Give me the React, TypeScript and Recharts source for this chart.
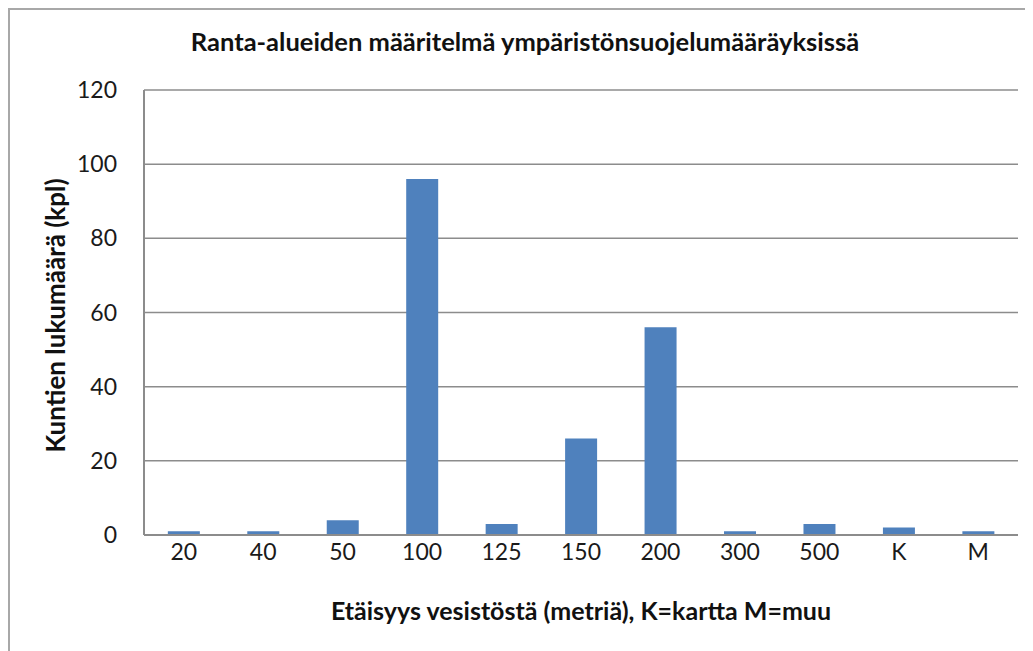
import { BarChart, Bar, XAxis, YAxis, CartesianGrid, Label } from 'recharts';

const categories = ['20', '40', '50', '100', '125', '150', '200', '300', '500', 'K', 'M'];
const counts = [1, 1, 4, 96, 3, 26, 56, 1, 3, 2, 1];
const yTicks = [0, 20, 40, 60, 80, 100, 120];

const title = 'Ranta-alueiden määritelmä ympäristönsuojelumääräyksissä';
const xTitle = 'Etäisyys vesistöstä (metriä), K=kartta M=muu';
const yTitle = 'Kuntien lukumäärä (kpl)';

const data = categories.map((c, i) => ({ dist: c, count: counts[i] }));

const font = 'Lato, "Open Sans", sans-serif';
const tick = { fill: '#1a1a1a', fontSize: 23, fontFamily: font };

export default function App() {
  return (
    <div style={{ position: 'relative', width: 1025, height: 643, fontFamily: font }}>
      {/* outer chart frame, cut off at right and bottom like the screenshot */}
      <div
        style={{
          position: 'absolute',
          left: 0,
          top: 0,
          width: 1025,
          height: 643,
          boxSizing: 'border-box',
          borderTop: '2px solid #a8a8a8',
          borderLeft: '2px solid #a8a8a8',
        }}
      />
      <div
        style={{
          position: 'absolute',
          left: 0,
          top: 17,
          width: 1034,
          textAlign: 'center',
          fontSize: 25.5,
          lineHeight: '32px',
          fontWeight: 700,
          color: '#111',
        }}
      >
        {title}
      </div>
      <div style={{ position: 'absolute', left: 0, top: 0 }}>
        <BarChart
          width={1025}
          height={643}
          data={data}
          margin={{ top: 82, right: 15, bottom: 0, left: 0 }}
          barCategoryGap="30%"
        >
          <CartesianGrid vertical={false} stroke="#8c8c8c" strokeWidth={1.5} />
          <XAxis
            dataKey="dist"
            height={116}
            tick={tick}
            tickSize={0}
            tickMargin={9}
            axisLine={{ stroke: '#8c8c8c', strokeWidth: 2 }}
            tickLine={false}
          >
            <Label
              content={({ viewBox }: any) => (
                <text
                  x={viewBox.x + viewBox.width / 2}
                  y={viewBox.y + 85}
                  textAnchor="middle"
                  fontSize={25}
                  fontWeight={700}
                  fontFamily={font}
                  fill="#111"
                >
                  {xTitle}
                </text>
              )}
            />
          </XAxis>
          <YAxis
            width={136}
            domain={[0, 120]}
            ticks={yTicks}
            tick={tick}
            tickSize={0}
            tickMargin={27}
            axisLine={{ stroke: '#8c8c8c', strokeWidth: 2 }}
            tickLine={false}
          >
            <Label
              content={({ viewBox }: any) => {
                const cx = 47;
                const cy = viewBox.y + viewBox.height / 2 + 3;
                return (
                  <text
                    x={cx}
                    y={cy}
                    transform={`rotate(-90 ${cx} ${cy})`}
                    textAnchor="middle"
                    dominantBaseline="central"
                    fontSize={26}
                    fontWeight={700}
                    fontFamily={font}
                    fill="#111"
                  >
                    {yTitle}
                  </text>
                );
              }}
            />
          </YAxis>
          <Bar dataKey="count" fill="#4f81bd" isAnimationActive={false} />
        </BarChart>
      </div>
    </div>
  );
}
